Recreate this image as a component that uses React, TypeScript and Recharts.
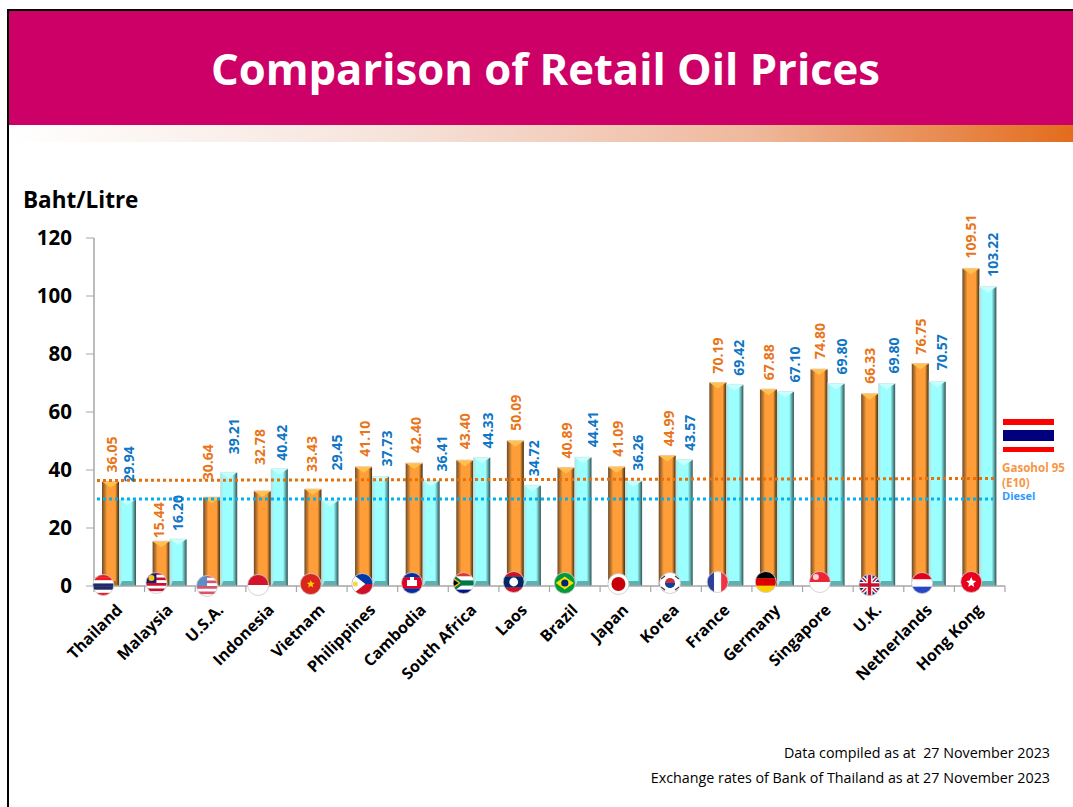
import React from 'react';
import { BarChart, Bar, XAxis, YAxis, ReferenceLine, LabelList } from 'recharts';

const countries = ['Thailand', 'Malaysia', 'U.S.A.', 'Indonesia', 'Vietnam', 'Philippines', 'Cambodia', 'South Africa', 'Laos', 'Brazil', 'Japan', 'Korea', 'France', 'Germany', 'Singapore', 'U.K.', 'Netherlands', 'Hong Kong'];
const gasohol = [36.05, 15.44, 30.64, 32.78, 33.43, 41.1, 42.4, 43.4, 50.09, 40.89, 41.09, 44.99, 70.19, 67.88, 74.8, 66.33, 76.75, 109.51];
const diesel = [29.94, 16.2, 39.21, 40.42, 29.45, 37.73, 36.41, 44.33, 34.72, 44.41, 36.26, 43.57, 69.42, 67.1, 69.8, 69.8, 70.57, 103.22];
const yTicks = [0, 20, 40, 60, 80, 100, 120];

// labels are hand placed in the original: px above each bar, px sideways from its centre
const gasoholLabelGap = [9, 3, 17, 26, 17, 10, 10, 11, 10, 9, 10, 9, 9, 9, 10, 10, 9, 10];
const dieselLabelGap = [17, 8, 18, 8, 30, 10, 9, 9, 9, 10, 10, 9, 9, 9, 9, 10, 11, 10];
const gasoholLabelShift = [1, -3, -4, -3, -1, 1, 1, 0, 0, 1, 1, 1, 0, 0, 0, 0, 0, 0];
const dieselLabelShift = [1, -1, 5, 2, 7, 6, 10, 6, 1, 10, 4, 5, 4, 9, 5, 7, 4, 5];
const flagShift = [-16, -13.5, -13.5, -13, -11, -10, -11, -10, -10.5, -10, -7, -6, -9, -11.5, -8, -9, -7, -8.5];
const flagLift = [1, 3, 0, 1, 2, 2, 3, 3, 4, 3, 2, 3, 4, 4, 4, 1, 3, 4];

const chartData = countries.map((name, i) => ({ name, gasohol: gasohol[i], diesel: diesel[i] }));

const LEFT = 94;
const RIGHT = 1005;
const TOP = 238;
const BASE = 586;
const XAXIS_HEIGHT = 100;
const STEP = (RIGHT - LEFT) / countries.length;
const FONT = '"Open Sans", "Noto Sans", sans-serif';

const Stripes = ({ colors }: { colors: string[] }) => (
  <>
    {colors.map((c, i) => (
      <rect key={i} x={-11} y={-11 + (22 * i) / colors.length} width={22} height={22 / colors.length + 0.3} fill={c} />
    ))}
  </>
);

const flagArt: Record<string, React.ReactNode> = {
  Thailand: <Stripes colors={['#ed1c24', '#ed1c24', '#fff', '#1f2a6b', '#1f2a6b', '#fff', '#ed1c24']} />,
  Malaysia: (
    <>
      <Stripes colors={['#c8102e', '#fff', '#c8102e', '#fff', '#c8102e', '#fff', '#c8102e', '#fff']} />
      <rect x={-11} y={-11} width={11} height={11} fill="#1c1c6b" />
      <circle cx={-5} cy={-5} r={3} fill="#f5c518" />
    </>
  ),
  'U.S.A.': (
    <>
      <Stripes colors={['#d9536a', '#fff', '#d9536a', '#fff', '#d9536a', '#fff', '#d9536a', '#fff']} />
      <rect x={-11} y={-11} width={11} height={11} fill="#5b8fc9" />
    </>
  ),
  Indonesia: <Stripes colors={['#d2142c', '#fff']} />,
  Vietnam: (
    <>
      <Stripes colors={['#da251d']} />
      <polygon points="0,-4 1.2,-1.2 4,-1.2 1.8,0.7 2.6,3.5 0,1.9 -2.6,3.5 -1.8,0.7 -4,-1.2 -1.2,-1.2" fill="#ffcd00" />
    </>
  ),
  Philippines: (
    <>
      <Stripes colors={['#0038a8', '#ce1126']} />
      <polygon points="-11,-11 3,0 -11,11" fill="#fff" />
      <circle cx={-7} cy={0} r={2.5} fill="#f5d742" />
    </>
  ),
  Cambodia: (
    <>
      <Stripes colors={['#032ea1', '#e00025', '#e00025', '#032ea1']} />
      <rect x={-5} y={-3} width={10} height={6} fill="#fff" />
      <rect x={-2} y={-6} width={4} height={3} fill="#fff" />
    </>
  ),
  'South Africa': (
    <>
      <Stripes colors={['#e03c31', '#fff', '#007749', '#fff', '#001489']} />
      <rect x={-11} y={-2.5} width={22} height={5} fill="#007749" />
      <polygon points="-11,-9 1,0 -11,9" fill="#007749" />
      <polygon points="-11,-6 -3,0 -11,6" fill="#ffb81c" />
      <polygon points="-11,-4 -5,0 -11,4" fill="#000" />
    </>
  ),
  Laos: (
    <>
      <Stripes colors={['#ce1126', '#002868', '#002868', '#ce1126']} />
      <circle r={4.4} fill="#fff" />
    </>
  ),
  Brazil: (
    <>
      <Stripes colors={['#009b3a']} />
      <polygon points="-9,0 0,-6.5 9,0 0,6.5" fill="#fedf00" />
      <circle r={3.6} fill="#002776" />
    </>
  ),
  Japan: <circle r={7} fill="#c8000a" />,
  Korea: (
    <>
      <circle r={5} fill="#cd2e3a" />
      <path d="M-5,0 A5,5 0 0 0 5,0 Z" fill="#0047a0" />
      <path d="M-10,-6 L-6,-9 M-9,-4 L-5,-7 M6,-9 L10,-6 M5,-7 L9,-4 M-10,6 L-6,9 M-9,4 L-5,7 M6,9 L10,6 M5,7 L9,4" stroke="#444" strokeWidth={1.3} />
    </>
  ),
  France: (
    <>
      <rect x={-11} y={-11} width={7.5} height={22} fill="#2d3f9b" />
      <rect x={-3.5} y={-11} width={7} height={22} fill="#fff" />
      <rect x={3.5} y={-11} width={7.5} height={22} fill="#ef3340" />
    </>
  ),
  Germany: <Stripes colors={['#000', '#dd0000', '#ffce00']} />,
  Singapore: (
    <>
      <Stripes colors={['#ee2536', '#fff']} />
      <circle cx={-4} cy={-5} r={3} fill="#fbd6d6" />
    </>
  ),
  'U.K.': (
    <>
      <Stripes colors={['#1f2f75']} />
      <path d="M-11,-11 L11,11 M11,-11 L-11,11" stroke="#fff" strokeWidth={4} />
      <path d="M-11,-11 L11,11 M11,-11 L-11,11" stroke="#c8102e" strokeWidth={1.4} />
      <path d="M0,-11 V11 M-11,0 H11" stroke="#fff" strokeWidth={6} />
      <path d="M0,-11 V11 M-11,0 H11" stroke="#c8102e" strokeWidth={3.4} />
    </>
  ),
  Netherlands: <Stripes colors={['#e4001b', '#fff', '#2846c8']} />,
  'Hong Kong': (
    <>
      <Stripes colors={['#e8001c']} />
      <path d="M0,-5 L1.5,-1.5 L5,-1 L2.2,1.4 L3,5 L0,3 L-3,5 L-2.2,1.4 L-5,-1 L-1.5,-1.5 Z" fill="#fff" />
    </>
  ),
};

const CountryTick = (props: any) => {
  const { x, index, payload } = props;
  const fx = x + flagShift[index];
  const fy = BASE - flagLift[index];
  const tx = x + 4;
  const ty = BASE + 25;
  return (
    <g>
      <line x1={x - STEP / 2} x2={x - STEP / 2} y1={BASE} y2={BASE + 6} stroke="#a6a6a6" strokeWidth={1.2} />
      {index === countries.length - 1 && (
        <line x1={x + STEP / 2} x2={x + STEP / 2} y1={BASE} y2={BASE + 6} stroke="#a6a6a6" strokeWidth={1.2} />
      )}
      <g transform={`translate(${fx},${fy})`}>
        <clipPath id={`flag-${index}`}>
          <circle r={10.5} />
        </clipPath>
        <circle r={10.5} fill="#fff" />
        <g clipPath={`url(#flag-${index})`}>{flagArt[payload.value]}</g>
        <circle r={10.5} fill="none" stroke="#c8c8c8" strokeWidth={0.8} />
      </g>
      <text
        x={tx}
        y={ty}
        textAnchor="end"
        transform={`rotate(-45 ${tx} ${ty})`}
        fontFamily={FONT}
        fontWeight={700}
        fontSize={16}
        fill="#000"
      >
        {payload.value}
      </text>
    </g>
  );
};

// bevelled 3D look of the original bars
const BevelBar = (props: any) => {
  const { x, y, width, height, kind } = props;
  const orange = kind === 'gasohol';
  const inset = 3;
  const bottom = y + height;
  return (
    <g>
      <rect x={x} y={y} width={width} height={height} fill={`url(#${kind}Side)`} />
      <polygon
        points={`${x},${y} ${x + width},${y} ${x + width / 2},${y + 6}`}
        fill={orange ? '#ffc04d' : '#c8ffff'}
      />
      <line x1={x} x2={x + width} y1={y} y2={y} stroke={orange ? '#f2c9a0' : '#cfeeee'} strokeWidth={1} />
      <polygon
        points={`${x + 1},${bottom} ${x + width - 1},${bottom} ${x + width - inset},${bottom - 5} ${x + inset},${bottom - 5}`}
        fill={orange ? '#b06a1e' : '#5fb0b0'}
      />
    </g>
  );
};

const rotatedLabel = (color: string, gaps: number[], shifts: number[]) => (props: any) => {
  const { x, y, width, value, index } = props;
  const lx = x + width / 2 + shifts[index];
  const ly = y - gaps[index];
  return (
    <text
      x={lx}
      y={ly}
      transform={`rotate(-90 ${lx} ${ly})`}
      dominantBaseline="central"
      fontFamily={FONT}
      fontSize={14}
      fontWeight={700}
      fill={color}
    >
      {value.toFixed(2)}
    </text>
  );
};

const DottedLine = (trimLeft: number, trimRight: number, rise: number) => (props: any) => (
  <line
    x1={props.x1 + trimLeft}
    x2={props.x2 - trimRight}
    y1={props.y1}
    y2={props.y2 - rise}
    stroke={props.stroke}
    strokeWidth={3}
    strokeDasharray="3 3"
  />
);

const App: React.FC = () => (
  <div style={{ position: 'absolute', left: 0, top: 0, width: 1073, height: 807, background: '#fff', overflow: 'hidden', fontFamily: FONT }}>
    <div style={{ position: 'absolute', left: 7, top: 9, width: 2, height: 798, background: '#000' }} />
    <div style={{ position: 'absolute', left: 7, top: 9, width: 1066, height: 2, background: '#000' }} />
    <div style={{ position: 'absolute', left: 9, top: 11, width: 1064, height: 114, background: '#cc0066' }}>
      <div style={{ position: 'absolute', left: 0, width: 1073, top: 0, color: '#fff', fontSize: 43.6, fontWeight: 700, lineHeight: '114px', textAlign: 'center' }}>
        Comparison of Retail Oil Prices
      </div>
    </div>
    <div style={{ position: 'absolute', left: 9, top: 125, width: 1064, height: 17, background: 'linear-gradient(90deg, #ffffff 0%, #f6e4dc 35%, #efb89c 70%, #e36c1c 100%)' }} />

    <BarChart
      width={1073}
      height={807}
      data={chartData}
      barSize={17}
      barGap={0}
      margin={{ top: TOP, right: 1073 - RIGHT, bottom: 807 - BASE - XAXIS_HEIGHT, left: 0 }}
      style={{ position: 'absolute', left: 0, top: 0 }}
    >
      <defs>
        <linearGradient id="gasoholSide" x1="0" x2="1" y1="0" y2="0">
          <stop offset="0" stopColor="#6e4a26" />
          <stop offset="0.3" stopColor="#ff9e38" />
          <stop offset="0.78" stopColor="#ff9e38" />
          <stop offset="0.9" stopColor="#8a5a20" />
          <stop offset="1" stopColor="#4f300f" />
        </linearGradient>
        <linearGradient id="dieselSide" x1="0" x2="1" y1="0" y2="0">
          <stop offset="0" stopColor="#b8dcdc" />
          <stop offset="0.2" stopColor="#9cffff" />
          <stop offset="0.72" stopColor="#9cffff" />
          <stop offset="0.88" stopColor="#5a9c9c" />
          <stop offset="1" stopColor="#2f5555" />
        </linearGradient>
      </defs>
      <Bar dataKey="gasohol" isAnimationActive={false} shape={(p: any) => <BevelBar {...p} kind="gasohol" />}>
        <LabelList dataKey="gasohol" content={rotatedLabel('#e8751a', gasoholLabelGap, gasoholLabelShift)} />
      </Bar>
      <Bar dataKey="diesel" isAnimationActive={false} shape={(p: any) => <BevelBar {...p} kind="diesel" />}>
        <LabelList dataKey="diesel" content={rotatedLabel('#0f75c4', dieselLabelGap, dieselLabelShift)} />
      </Bar>
      <ReferenceLine y={36.4} stroke="#e8700a" shape={DottedLine(3, 8, 2)} />
      <ReferenceLine y={30} stroke="#00b0f0" shape={DottedLine(3, 12, 0)} />
      <YAxis
        width={LEFT}
        domain={[0, 120]}
        ticks={yTicks}
        interval={0}
        axisLine={{ stroke: '#a6a6a6', strokeWidth: 1.5 }}
        tickLine={{ stroke: '#a6a6a6', strokeWidth: 1 }}
        tickSize={8}
        tickMargin={14}
        tick={{ fill: '#000', fontSize: 20.5, fontWeight: 700, fontFamily: FONT }}
      />
      <XAxis
        dataKey="name"
        interval={0}
        height={XAXIS_HEIGHT}
        axisLine={{ stroke: '#a6a6a6', strokeWidth: 1.5 }}
        tickLine={false}
        tickSize={0}
        tickMargin={0}
        tick={<CountryTick />}
      />
    </BarChart>

    <div style={{ position: 'absolute', left: 23, top: 185, fontSize: 22.5, fontWeight: 700, lineHeight: '30px', color: '#000' }}>Baht/Litre</div>
    <div style={{ position: 'absolute', left: 1003, top: 419, width: 51, height: 6, background: '#f00' }} />
    <div style={{ position: 'absolute', left: 1003, top: 430, width: 51, height: 11, background: '#00007f' }} />
    <div style={{ position: 'absolute', left: 1003, top: 447, width: 51, height: 5, background: '#f00' }} />
    <div style={{ position: 'absolute', left: 1002, top: 460, fontSize: 11.6, fontWeight: 700, lineHeight: '15px', color: '#f79646', whiteSpace: 'nowrap' }}>
      Gasohol 95
      <br />
      (E10)
    </div>
    <div style={{ position: 'absolute', left: 1002, top: 489, fontSize: 11, fontWeight: 700, lineHeight: '14px', color: '#3399ff' }}>Diesel</div>
    <div style={{ position: 'absolute', right: 23, top: 743, fontSize: 14.3, lineHeight: '20px', color: '#000' }}>Data compiled as at&nbsp; 27 November 2023</div>
    <div style={{ position: 'absolute', right: 23, top: 768, fontSize: 14.3, lineHeight: '20px', color: '#000' }}>Exchange rates of Bank of Thailand as at 27 November 2023</div>
  </div>
);

export default App;
